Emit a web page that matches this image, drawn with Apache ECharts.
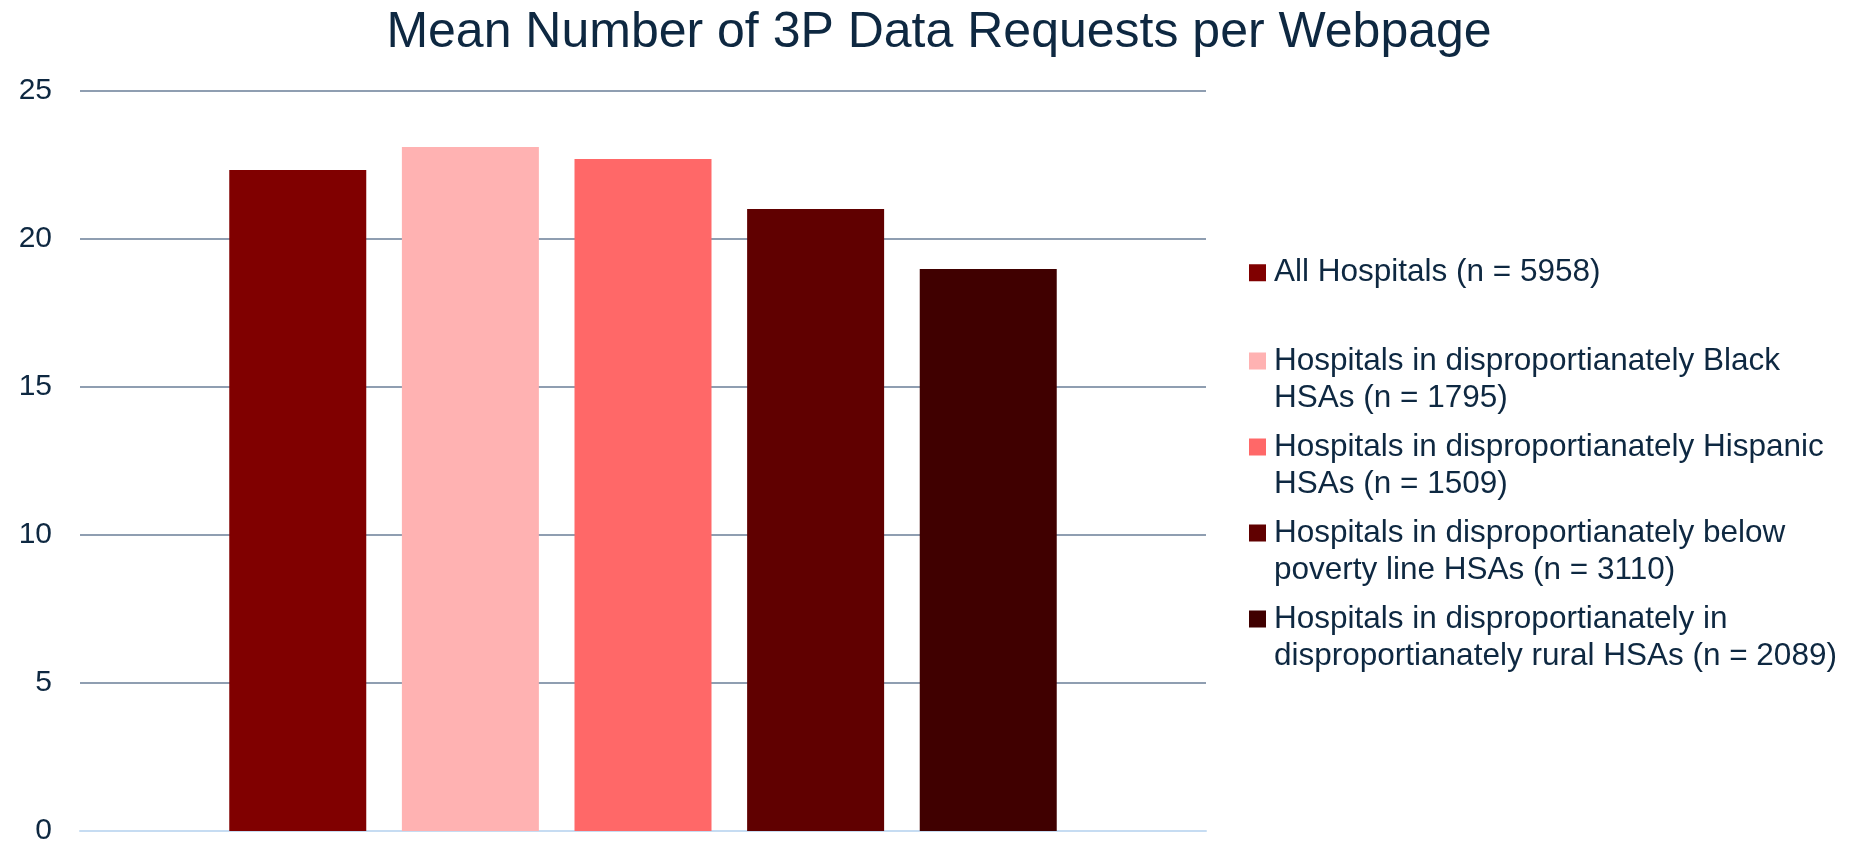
<!DOCTYPE html>
<html>
<head>
<meta charset="utf-8">
<title>Mean Number of 3P Data Requests per Webpage</title>
<script src="https://cdn.jsdelivr.net/npm/echarts@6/dist/echarts.min.js"></script>
<style>
  html, body { margin: 0; padding: 0; background: #ffffff; }
  #chart { width: 1854px; height: 843px; }
</style>
</head>
<body>
<div id="chart"></div>
<script>
// values
const categories = [""];
const seriesNames = [
  "All Hospitals (n = 5958)",
  "Hospitals in disproportianately Black HSAs (n = 1795)",
  "Hospitals in disproportianately Hispanic HSAs (n = 1509)",
  "Hospitals in disproportianately below poverty line HSAs (n = 3110)",
  "Hospitals in disproportianately in disproportianately rural HSAs (n = 2089)",
];
const legendLabels = [
  "All Hospitals (n = 5958)",
  "Hospitals in disproportianately Black\nHSAs (n = 1795)",
  "Hospitals in disproportianately Hispanic\nHSAs (n = 1509)",
  "Hospitals in disproportianately below\npoverty line HSAs (n = 3110)",
  "Hospitals in disproportianately in\ndisproportianately rural HSAs (n = 2089)",
];
const meanRequests = [22.33, 23.11, 22.7, 21.01, 18.99];
const yTicks = [0, 5, 10, 15, 20, 25];

const barColors = ["#800000", "#ffb2b2", "#ff6868", "#600000", "#400000"];
const textColor = "#0e2841";
const fontFamily = "'Liberation Sans', Arial, sans-serif";

const chart = echarts.init(document.getElementById("chart"), null, { renderer: "canvas" });

// legend squares: tiny dots stretch the icon box so the square sits where the
// reference has it (first text line, a few px before the text)
const oneLineIcon =
  "path://M0,0h17v17h-17Z M19.99,16.99h0.01v0.01h-0.01Z";
const twoLineIcon =
  "path://M0,0h0.01v0.01h-0.01Z M0,10.5h17v17h-17Z M19.99,75.99h0.01v0.01h-0.01Z";

const legendText = {
  color: textColor,
  fontFamily: fontFamily,
  fontSize: 31.5,
  lineHeight: 37.5,
};
const labelFor = (name) => legendLabels[seriesNames.indexOf(name)];

chart.setOption({
  animation: false,
  backgroundColor: "#ffffff",
  title: {
    text: "Mean Number of 3P Data Requests per Webpage",
    left: 934,
    top: 3,
    textAlign: "center",
    textStyle: {
      color: textColor,
      fontFamily: fontFamily,
      fontSize: 50,
      fontWeight: "normal",
    },
  },
  legend: [
    {
      data: seriesNames.slice(0, 1),
      orient: "vertical",
      left: 1249,
      top: 254,
      padding: 0,
      icon: oneLineIcon,
      itemWidth: 20,
      itemHeight: 17,
      formatter: labelFor,
      textStyle: legendText,
      selectedMode: false,
    },
    {
      data: seriesNames.slice(1),
      orient: "vertical",
      left: 1249,
      top: 342,
      padding: 0,
      itemGap: 10,
      icon: twoLineIcon,
      itemWidth: 20,
      itemHeight: 76,
      formatter: labelFor,
      textStyle: legendText,
      selectedMode: false,
    },
  ],
  grid: {
    left: 80,
    right: 648,
    top: 91,
    bottom: 12,
    containLabel: false,
    outerBoundsMode: "none",
  },
  xAxis: {
    type: "category",
    data: categories,
    axisTick: { show: false },
    axisLabel: { show: false },
    axisLine: {
      show: true,
      lineStyle: { color: "#c6dcf2", width: 2 },
    },
  },
  yAxis: {
    type: "value",
    min: yTicks[0],
    max: yTicks[yTicks.length - 1],
    interval: yTicks[1] - yTicks[0],
    axisLine: { show: false },
    axisTick: { show: false },
    axisLabel: {
      color: textColor,
      fontFamily: fontFamily,
      fontSize: 30,
      margin: 28,
    },
    splitLine: {
      lineStyle: { color: "#8f9eb1", width: 2 },
    },
  },
  series: seriesNames.map((name, i) => ({
    name: name,
    type: "bar",
    data: [meanRequests[i]],
    barWidth: 137,
    barGap: "26%",
    itemStyle: { color: barColors[i] },
    emphasis: { disabled: true },
  })),
});
</script>
</body>
</html>
